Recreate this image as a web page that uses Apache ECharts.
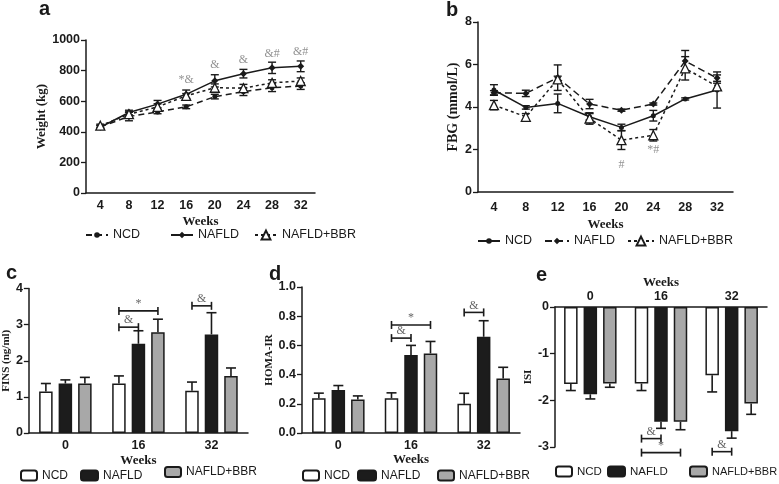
<!DOCTYPE html>
<html>
<head>
<meta charset="utf-8">
<script src="https://cdn.jsdelivr.net/npm/echarts@6/dist/echarts.min.js"></script>
<style>
html,body{margin:0;padding:0;background:#fff;}
#chart{width:779px;height:484px;}
</style>
</head>
<body>
<div id="chart"></div>
<script>
// a / b : time course
var weeks = ['4', '8', '12', '16', '20', '24', '28', '32'];

var weightNCD = [432, 500, 530, 563, 630, 662, 688, 699];
var weightNAFLD = [430, 526, 581, 645, 733, 780, 818, 828];
var weightBBR = [440, 515, 563, 635, 688, 685, 720, 732];
var weightErrNCD = [10, 28, 12, 12, 15, 25, 25, 22];
var weightErrNAFLD = [12, 15, 24, 28, 40, 28, 37, 35];
var weightErrBBR = [10, 15, 20, 15, 25, 25, 20, 20];
var weightMarkWeek = ['16', '20', '24', '28', '32'];
var weightMarkY = [737, 835, 869, 907, 923];
var weightMarkText = ['*&', '&', '&', '&#', '&#'];

var fbgNCD = [4.8, 3.98, 4.17, 3.54, 3.04, 3.59, 4.38, 4.8];
var fbgNAFLD = [4.67, 4.64, 5.38, 4.14, 3.85, 4.14, 6.16, 5.36];
var fbgBBR = [4.09, 3.54, 5.3, 3.46, 2.44, 2.67, 5.82, 4.97];
var fbgErrNCD = [0.25, 0.08, 0.44, 0.15, 0.15, 0.25, 0.05, 0.85];
var fbgErrNAFLD = [0.1, 0.15, 0.6, 0.22, 0.05, 0.05, 0.5, 0.15];
var fbgErrBBR = [0.22, 0.15, 0.15, 0.27, 0.44, 0.27, 0.55, 0.15];
var fbgMarkWeek = ['20', '24'];
var fbgMarkY = [1.26, 2.0];
var fbgMarkText = ['#', '*#'];

// c / d / e : bars at week 0, 16, 32
var barWeeks = ['0', '16', '32'];

var finsNCD = [1.15, 1.37, 1.17];
var finsNAFLD = [1.37, 2.47, 2.73];
var finsBBR = [1.37, 2.79, 1.58];
var finsErrNCD = [0.22, 0.21, 0.24];
var finsErrNAFLD = [0.1, 0.36, 0.6];
var finsErrBBR = [0.17, 0.36, 0.22];
// [week index, y, from bar, to bar]
var finsBrackets = [[1, 3.38, 0, 2], [1, 2.93, 0, 1], [2, 3.52, 0, 1]];
var finsBracketText = ['*', '&', '&'];

var homaNCD = [0.238, 0.238, 0.2];
var homaNAFLD = [0.295, 0.535, 0.659];
var homaBBR = [0.23, 0.545, 0.373];
var homaErrNCD = [0.035, 0.037, 0.072];
var homaErrNAFLD = [0.03, 0.065, 0.11];
var homaErrBBR = [0.024, 0.082, 0.077];
var homaBrackets = [[1, 0.74, 0, 2], [1, 0.65, 0, 1], [2, 0.826, 0, 1]];
var homaBracketText = ['*', '&', '&'];

var isiNCD = [-1.65, -1.64, -1.46];
var isiNAFLD = [-1.87, -2.46, -2.66];
var isiBBR = [-1.64, -2.46, -2.07];
var isiErrNCD = [0.14, 0.15, 0.36];
var isiErrNAFLD = [0.1, 0.14, 0.15];
var isiErrBBR = [0.08, 0.17, 0.23];
var isiBrackets = [[1, -2.82, 0, 1], [1, -3.12, 0, 2], [2, -3.1, 0, 1]];
var isiBracketText = ['&', '*', '&'];

var INK = '#1a1a1a';
var SANS = '"Liberation Sans", Arial, sans-serif';
var SERIF = '"Liberation Serif", "Times New Roman", serif';
var BAR_W = 13.5;
var BAR_SPACE = 6;
var STEP = BAR_W + BAR_SPACE;

function stripName(n) {
	return n.split(':')[1];
}

function lineErrRender(params, api) {
	var i = api.value(0), m = api.value(1), e = api.value(2);
	var hi = api.coord([i, m + e]);
	var lo = api.coord([i, m - e]);
	var st = {stroke: INK, lineWidth: 1.4};
	return {type: 'group', children: [
		{type: 'line', shape: {x1: hi[0], y1: hi[1], x2: lo[0], y2: lo[1]}, style: st},
		{type: 'line', shape: {x1: hi[0] - 4, y1: hi[1], x2: hi[0] + 4, y2: hi[1]}, style: st},
		{type: 'line', shape: {x1: lo[0] - 4, y1: lo[1], x2: lo[0] + 4, y2: lo[1]}, style: st}
	]};
}

function barErrRender(k) {
	return function (params, api) {
		var i = api.value(0), m = api.value(1), e = api.value(2);
		var end = m < 0 ? m - e : m + e;
		var p0 = api.coord([i, m]);
		var p1 = api.coord([i, end]);
		var x = p0[0] + (k - 1) * STEP;
		var st = {stroke: INK, lineWidth: 1.6};
		return {type: 'group', children: [
			{type: 'line', shape: {x1: x, y1: p0[1], x2: x, y2: p1[1]}, style: st},
			{type: 'line', shape: {x1: x - 5, y1: p1[1], x2: x + 5, y2: p1[1]}, style: st}
		]};
	};
}

function bracketRender(texts) {
	return function (params, api) {
		var p = api.coord([api.value(0), api.value(1)]);
		var x1 = p[0] + (api.value(2) - 1) * STEP;
		var x2 = p[0] + (api.value(3) - 1) * STEP;
		var st = {stroke: INK, lineWidth: 1.6};
		return {type: 'group', children: [
			{type: 'line', shape: {x1: x1, y1: p[1], x2: x2, y2: p[1]}, style: st},
			{type: 'line', shape: {x1: x1, y1: p[1] - 4, x2: x1, y2: p[1] + 4}, style: st},
			{type: 'line', shape: {x1: x2, y1: p[1] - 4, x2: x2, y2: p[1] + 4}, style: st},
			{type: 'text', x: (x1 + x2) / 2, y: p[1] - 1, style: {text: texts[params.dataIndex], fill: '#666',
				font: '12px ' + SERIF, align: 'center', verticalAlign: 'bottom'}}
		]};
	};
}

function lineSeries(name, axis, data, dash, symbol, size, fill) {
	return {
		name: name, type: 'line', xAxisIndex: axis, yAxisIndex: axis, data: data,
		symbol: symbol, symbolSize: size, z: 4, silent: true, animation: false,
		lineStyle: {color: INK, width: 1.5, type: dash},
		itemStyle: {color: fill, borderColor: INK, borderWidth: fill == '#fff' ? 1.3 : 0}
	};
}

function lineErr(axis, vals, errs) {
	return {
		type: 'custom', xAxisIndex: axis, yAxisIndex: axis, z: 3, silent: true, animation: false,
		renderItem: lineErrRender,
		data: vals.map(function (v, i) { return [i, v, errs[i]]; })
	};
}

function marks(axis, xs, ys, texts) {
	return {
		type: 'scatter', xAxisIndex: axis, yAxisIndex: axis, symbolSize: 0, silent: true, animation: false,
		data: xs.map(function (x, i) { return [x, ys[i]]; }),
		label: {show: true, position: 'inside', color: '#777', fontFamily: SERIF, fontSize: 12,
			formatter: function (p) { return texts[p.dataIndex]; }}
	};
}

function barSeries(name, axis, data, fill) {
	return {
		name: name, type: 'bar', xAxisIndex: axis, yAxisIndex: axis, data: data,
		barWidth: BAR_W, barGap: (BAR_SPACE / BAR_W * 100).toFixed(1) + '%',
		silent: true, animation: false,
		itemStyle: {color: fill, borderColor: INK, borderWidth: 1.5}
	};
}

function barErr(axis, k, vals, errs) {
	return {
		type: 'custom', xAxisIndex: axis, yAxisIndex: axis, z: 3, silent: true, animation: false,
		renderItem: barErrRender(k),
		data: vals.map(function (v, i) { return [i, v, errs[i]]; })
	};
}

function brackets(axis, list, texts) {
	return {
		type: 'custom', xAxisIndex: axis, yAxisIndex: axis, z: 3, silent: true, animation: false,
		renderItem: bracketRender(texts), data: list
	};
}

function catAxis(grid, cats, pos, nameGap, margin) {
	return {
		type: 'category', gridIndex: grid, data: cats, position: pos,
		name: 'Weeks', nameLocation: 'middle', nameGap: nameGap,
		nameTextStyle: {fontFamily: SERIF, fontWeight: 'bold', fontSize: 13, color: INK},
		axisLine: {lineStyle: {color: INK, width: 1.5}},
		axisTick: {alignWithLabel: true, length: 4, lineStyle: {color: INK, width: 1.3}},
		axisLabel: {margin: margin, fontSize: 12.5, fontWeight: 'bold', color: INK, fontFamily: SANS},
		splitLine: {show: false}
	};
}

function valAxis(grid, min, max, step, name, nameGap, nameSize, digits) {
	return {
		type: 'value', gridIndex: grid, min: min, max: max, interval: step,
		name: name, nameLocation: 'middle', nameGap: nameGap,
		nameTextStyle: {fontFamily: SERIF, fontWeight: 'bold', fontSize: nameSize, color: INK},
		axisLine: {show: true, lineStyle: {color: INK, width: 1.5}},
		axisTick: {show: true, length: 5, lineStyle: {color: INK, width: 1.3}},
		axisLabel: {margin: 6, fontSize: 12.5, fontWeight: 'bold', color: INK, fontFamily: SANS,
			formatter: function (v) { return digits ? v.toFixed(digits) : String(v); }},
		splitLine: {show: false}
	};
}

function legendItem(name, left, top, w, h, size) {
	return {
		data: [name], left: left, top: top, itemWidth: w, itemHeight: h, itemGap: 0, padding: 0,
		selectedMode: false, formatter: stripName,
		textStyle: {fontSize: size, color: INK, fontFamily: SANS}
	};
}

var series = [
	lineErr(0, weightNCD, weightErrNCD),
	lineErr(0, weightNAFLD, weightErrNAFLD),
	lineErr(0, weightBBR, weightErrBBR),
	lineSeries('a:NCD', 0, weightNCD, [6, 4], 'circle', 5, INK),
	lineSeries('a:NAFLD', 0, weightNAFLD, 'solid', 'diamond', 7, INK),
	lineSeries('a:NAFLD+BBR', 0, weightBBR, [3, 3], 'triangle', 9, '#fff'),
	marks(0, weightMarkWeek, weightMarkY, weightMarkText),

	lineErr(1, fbgNCD, fbgErrNCD),
	lineErr(1, fbgNAFLD, fbgErrNAFLD),
	lineErr(1, fbgBBR, fbgErrBBR),
	lineSeries('b:NCD', 1, fbgNCD, 'solid', 'circle', 5, INK),
	lineSeries('b:NAFLD', 1, fbgNAFLD, [7, 4], 'diamond', 7, INK),
	lineSeries('b:NAFLD+BBR', 1, fbgBBR, [3, 3], 'triangle', 9, '#fff'),
	marks(1, fbgMarkWeek, fbgMarkY, fbgMarkText),

	barSeries('c:NCD', 2, finsNCD, '#fff'),
	barSeries('c:NAFLD', 2, finsNAFLD, '#1c1c1c'),
	barSeries('c:NAFLD+BBR', 2, finsBBR, '#a8a8a8'),
	barErr(2, 0, finsNCD, finsErrNCD),
	barErr(2, 1, finsNAFLD, finsErrNAFLD),
	barErr(2, 2, finsBBR, finsErrBBR),
	brackets(2, finsBrackets, finsBracketText),

	barSeries('d:NCD', 3, homaNCD, '#fff'),
	barSeries('d:NAFLD', 3, homaNAFLD, '#1c1c1c'),
	barSeries('d:NAFLD+BBR', 3, homaBBR, '#a8a8a8'),
	barErr(3, 0, homaNCD, homaErrNCD),
	barErr(3, 1, homaNAFLD, homaErrNAFLD),
	barErr(3, 2, homaBBR, homaErrBBR),
	brackets(3, homaBrackets, homaBracketText),

	barSeries('e:NCD', 4, isiNCD, '#fff'),
	barSeries('e:NAFLD', 4, isiNAFLD, '#1c1c1c'),
	barSeries('e:NAFLD+BBR', 4, isiBBR, '#a8a8a8'),
	barErr(4, 0, isiNCD, isiErrNCD),
	barErr(4, 1, isiNAFLD, isiErrNAFLD),
	barErr(4, 2, isiBBR, isiErrBBR),
	brackets(4, isiBrackets, isiBracketText)
];

var letterStyle = {fontSize: 20, fontWeight: 'bold', color: INK, fontFamily: SANS};

var option = {
	animation: false,
	backgroundColor: '#fff',
	textStyle: {fontFamily: SANS},
	title: [
		{text: 'a', left: 39, top: -1, padding: 0, textStyle: letterStyle},
		{text: 'b', left: 446, top: 0, padding: 0, textStyle: letterStyle},
		{text: 'c', left: 6, top: 263, padding: 0, textStyle: letterStyle},
		{text: 'd', left: 269, top: 264, padding: 0, textStyle: letterStyle},
		{text: 'e', left: 536, top: 265, padding: 0, textStyle: letterStyle}
	],
	grid: [
		{left: 86, top: 40, width: 229, height: 153},
		{left: 478, top: 22, width: 255, height: 170},
		{left: 26, top: 288.5, width: 222, height: 144.5},
		{left: 302, top: 287, width: 218, height: 146},
		{left: 555, top: 307, width: 212, height: 140}
	],
	xAxis: [
		catAxis(0, weeks, 'bottom', 22, 6),
		catAxis(1, weeks, 'bottom', 26, 9),
		catAxis(2, barWeeks, 'bottom', 21, 6),
		catAxis(3, barWeeks, 'bottom', 19, 6),
		catAxis(4, barWeeks, 'top', 18, 4)
	],
	yAxis: [
		valAxis(0, 0, 1000, 200, 'Weight (kg)', 36, 13, 0),
		valAxis(1, 0, 8, 2, 'FBG (mmol/L)', 18, 14, 0),
		valAxis(2, 0, 4, 1, 'FINS (ng/ml)', 13, 11, 0),
		valAxis(3, 0, 1, 0.2, 'HOMA-IR', 22, 11, 1),
		valAxis(4, -3, 0, 1, 'ISI', 18, 11, 0)
	],
	legend: [
		legendItem('a:NCD', 85, 228.5, 22, 7, 12.5),
		legendItem('a:NAFLD', 170, 228.5, 22, 8, 12.5),
		legendItem('a:NAFLD+BBR', 254, 228.5, 22, 11, 12.5),
		legendItem('b:NCD', 477, 234.5, 22, 7, 12.5),
		legendItem('b:NAFLD', 544, 234.5, 24, 8, 12.5),
		legendItem('b:NAFLD+BBR', 627, 234.5, 26, 11, 12.5),
		legendItem('c:NCD', 20, 469.5, 16, 10, 12),
		legendItem('c:NAFLD', 80, 469.5, 17, 10, 12),
		legendItem('c:NAFLD+BBR', 164, 466, 16, 10, 12),
		legendItem('d:NCD', 302, 469.5, 16, 10, 12),
		legendItem('d:NAFLD', 357, 469.5, 18, 10, 12),
		legendItem('d:NAFLD+BBR', 437, 469.5, 16, 10, 12),
		legendItem('e:NCD', 555, 465.5, 16, 10, 11.5),
		legendItem('e:NAFLD', 607, 465.5, 17, 10, 11.5),
		legendItem('e:NAFLD+BBR', 689, 465.5, 17, 10, 11)
	],
	series: series
};

var mychart = echarts.init(document.getElementById('chart'));
mychart.setOption(option);
</script>
</body>
</html>
